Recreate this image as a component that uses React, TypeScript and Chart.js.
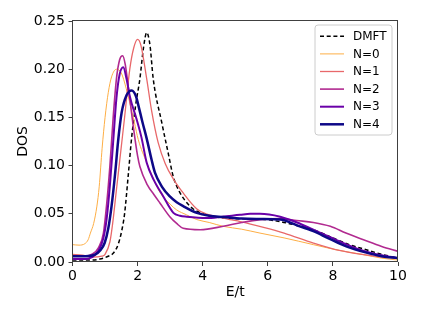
import React, { useEffect, useRef } from "react";
import { Chart, registerables } from "chart.js";

Chart.register(...registerables);

const xTicks = [0, 2, 4, 6, 8, 10];
const yTicks = [0, 0.05, 0.1, 0.15, 0.2, 0.25];

const seriesLabels = ["DMFT", "N=0", "N=1", "N=2", "N=3", "N=4"];

const dmftE = [0, 0.5, 0.84, 1.1, 1.25, 1.4, 1.51, 1.6, 1.71, 1.82, 1.95, 2.07, 2.18, 2.28, 2.38, 2.48, 2.74, 2.94, 3.1, 3.3, 3.5, 3.71, 4.0, 4.33, 5.0, 5.8, 6.5, 7.0, 7.4, 8.0, 8.5, 8.94, 9.5, 10];
const dmftDos = [0.002, 0.002, 0.003, 0.006, 0.009, 0.018, 0.032, 0.05, 0.089, 0.13, 0.165, 0.19, 0.222, 0.238, 0.225, 0.19, 0.145, 0.113, 0.088, 0.072, 0.062, 0.055, 0.05, 0.047, 0.045, 0.0445, 0.041, 0.037, 0.0335, 0.025, 0.018, 0.0135, 0.008, 0.004];

const n0E = [0, 0.2, 0.38, 0.48, 0.55, 0.65, 0.75, 0.82, 0.91, 1.0, 1.1, 1.2, 1.35, 1.5, 1.65, 1.76, 1.9, 2.02, 2.28, 2.5, 2.69, 3.0, 3.2, 3.5, 3.82, 4.2, 4.63, 5.2, 5.76, 6.5, 7.4, 8.2, 8.94, 9.5, 10];
const n0Dos = [0.018, 0.0175, 0.019, 0.023, 0.03, 0.04, 0.058, 0.078, 0.118, 0.15, 0.176, 0.192, 0.2, 0.196, 0.18, 0.165, 0.145, 0.127, 0.103, 0.085, 0.072, 0.06, 0.054, 0.049, 0.044, 0.041, 0.037, 0.034, 0.03, 0.025, 0.018, 0.012, 0.0076, 0.004, 0.002];

const n1E = [0, 0.3, 0.6, 0.9, 1.0, 1.15, 1.23, 1.35, 1.5, 1.6, 1.76, 1.88, 2.0, 2.1, 2.28, 2.43, 2.63, 2.85, 3.1, 3.4, 3.82, 4.1, 4.43, 4.84, 5.15, 5.87, 6.5, 7.4, 8.2, 8.94, 9.5, 10];
const n1Dos = [0.008, 0.007, 0.005, 0.006, 0.008, 0.021, 0.039, 0.075, 0.12, 0.15, 0.2, 0.222, 0.231, 0.225, 0.19, 0.157, 0.124, 0.102, 0.086, 0.0716, 0.055, 0.05, 0.047, 0.044, 0.042, 0.036, 0.03, 0.0197, 0.012, 0.0076, 0.005, 0.004];

const n2E = [0, 0.4, 0.6, 0.8, 0.95, 1.05, 1.15, 1.25, 1.35, 1.45, 1.54, 1.62, 1.72, 1.85, 2.0, 2.07, 2.3, 2.5, 2.69, 2.99, 3.2, 3.4, 3.92, 4.63, 5.2, 5.76, 6.4, 6.89, 7.4, 7.92, 8.4, 8.94, 9.5, 10];
const n2Dos = [0.006, 0.006, 0.008, 0.015, 0.03, 0.06, 0.1, 0.15, 0.19, 0.21, 0.214, 0.205, 0.18, 0.145, 0.11, 0.099, 0.08, 0.07, 0.061, 0.047, 0.04, 0.035, 0.0335, 0.037, 0.041, 0.044, 0.045, 0.043, 0.041, 0.037, 0.03, 0.023, 0.016, 0.011];

const n3E = [0, 0.4, 0.6, 0.8, 0.95, 1.05, 1.15, 1.25, 1.35, 1.45, 1.56, 1.66, 1.76, 1.97, 2.12, 2.28, 2.5, 2.79, 3.1, 3.3, 3.51, 4.12, 4.6, 5.15, 5.46, 5.76, 6.38, 6.9, 7.4, 7.9, 8.43, 9.0, 9.5, 10];
const n3Dos = [0.003, 0.003, 0.005, 0.012, 0.025, 0.045, 0.08, 0.125, 0.17, 0.195, 0.202, 0.19, 0.172, 0.148, 0.129, 0.103, 0.085, 0.068, 0.051, 0.048, 0.047, 0.0456, 0.047, 0.049, 0.05, 0.05, 0.047, 0.041, 0.0335, 0.026, 0.018, 0.011, 0.007, 0.004];

const n4E = [0, 0.4, 0.69, 0.85, 0.99, 1.1, 1.2, 1.31, 1.4, 1.51, 1.66, 1.82, 1.95, 2.02, 2.15, 2.28, 2.43, 2.53, 2.75, 2.99, 3.2, 3.4, 3.82, 4.2, 4.63, 5.2, 5.76, 6.38, 6.9, 7.4, 7.9, 8.43, 9.0, 9.5, 10];
const n4Dos = [0.006, 0.006, 0.0076, 0.012, 0.02, 0.035, 0.058, 0.092, 0.125, 0.155, 0.173, 0.178, 0.172, 0.163, 0.145, 0.128, 0.106, 0.093, 0.078, 0.068, 0.062, 0.058, 0.051, 0.048, 0.0467, 0.045, 0.0446, 0.044, 0.038, 0.032, 0.024, 0.016, 0.01, 0.006, 0.004];

const seriesE = [dmftE, n0E, n1E, n2E, n3E, n4E];
const seriesDos = [dmftDos, n0Dos, n1Dos, n2Dos, n3Dos, n4Dos];
const seriesColors = ["#000000", "#fdae45", "#e8686a", "#b12a90", "#6a00a8", "#0d0887"];
const seriesWidths = [1.5, 1, 1.3, 1.6, 2, 2.5];
const seriesDash: number[][] = [[4, 2.7], [], [], [], [], []];

const FONT = "DejaVu Sans";

const framePlugin = {
  id: "frameAndLegend",
  afterDraw(chart: any) {
    const { ctx, chartArea } = chart;
    ctx.save();
    const l = Math.round(chartArea.left) - 0.5;
    const t = Math.round(chartArea.top) - 0.5;
    const r = Math.round(chartArea.right) - 0.5;
    const b = Math.round(chartArea.bottom) - 0.5;
    ctx.strokeStyle = "#404040";
    ctx.lineWidth = 1;
    ctx.setLineDash([]);
    ctx.strokeRect(l, t, r - l, b - t);

    const bx = 315, by = 25, bw = 77, bh = 110, rad = 3;
    ctx.beginPath();
    ctx.moveTo(bx + rad, by);
    ctx.lineTo(bx + bw - rad, by);
    ctx.quadraticCurveTo(bx + bw, by, bx + bw, by + rad);
    ctx.lineTo(bx + bw, by + bh - rad);
    ctx.quadraticCurveTo(bx + bw, by + bh, bx + bw - rad, by + bh);
    ctx.lineTo(bx + rad, by + bh);
    ctx.quadraticCurveTo(bx, by + bh, bx, by + bh - rad);
    ctx.lineTo(bx, by + rad);
    ctx.quadraticCurveTo(bx, by, bx + rad, by);
    ctx.closePath();
    ctx.fillStyle = "rgba(255,255,255,0.8)";
    ctx.fill();
    ctx.strokeStyle = "#cccccc";
    ctx.stroke();

    const datasets = chart.data.datasets;
    datasets.forEach((ds: any, i: number) => {
      const y = 36.3 + i * 17.6;
      ctx.beginPath();
      ctx.setLineDash(ds.borderDash || []);
      ctx.strokeStyle = ds.borderColor;
      ctx.lineWidth = ds.borderWidth;
      ctx.moveTo(320, y);
      ctx.lineTo(344, y);
      ctx.stroke();
      ctx.setLineDash([]);
      ctx.fillStyle = "#000";
      ctx.font = `12px '${FONT}'`;
      ctx.textBaseline = "middle";
      ctx.textAlign = "left";
      ctx.fillText(ds.label, 353, y + 0.5);
    });
    ctx.restore();
  },
};

export default function App() {
  const ref = useRef<HTMLCanvasElement | null>(null);
  useEffect(() => {
    if (!ref.current) return;
    const datasets = seriesLabels.map((label, i) => ({
      label,
      data: seriesE[i].map((e, k) => ({ x: e, y: seriesDos[i][k] })),
      borderColor: seriesColors[i],
      backgroundColor: seriesColors[i],
      borderWidth: seriesWidths[i],
      borderDash: seriesDash[i],
      pointRadius: 0,
      fill: false,
      cubicInterpolationMode: "monotone" as const,
      order: seriesLabels.length - i,
    }));
    const chart = new Chart(ref.current, {
      type: "line",
      data: { datasets },
      plugins: [framePlugin],
      options: {
        animation: false,
        responsive: false,
        devicePixelRatio: 1,
        layout: { padding: { top: 21, right: 25, left: 0, bottom: 0 } },
        plugins: { legend: { display: false }, tooltip: { enabled: false } },
        scales: {
          x: {
            type: "linear",
            min: 0,
            max: 10,
            afterBuildTicks: (s: any) => {
              s.ticks = xTicks.map((v) => ({ value: v }));
            },
            afterFit: (s: any) => {
              s.height = 55;
            },
            ticks: {
              color: "#000",
              font: { family: FONT, size: 14 },
              padding: 2,
              maxRotation: 0,
              callback: (v: any) => String(v),
            },
            grid: { display: true, drawOnChartArea: false, drawTicks: true, tickLength: 4, color: "#404040" },
            border: { display: false },
            title: { display: true, text: "E/t", color: "#000", font: { family: FONT, size: 14 }, padding: { top: 0, bottom: 16 } },
          },
          y: {
            type: "linear",
            min: 0,
            max: 0.25,
            afterBuildTicks: (s: any) => {
              s.ticks = yTicks.map((v) => ({ value: v }));
            },
            afterFit: (s: any) => {
              s.width = 72.5;
            },
            ticks: {
              color: "#000",
              font: { family: FONT, size: 14 },
              padding: 3.5,
              callback: (v: any) => Number(v).toFixed(2),
            },
            grid: { display: true, drawOnChartArea: false, drawTicks: true, tickLength: 4, color: "#404040" },
            border: { display: false },
            title: { display: true, text: "DOS", color: "#000", font: { family: FONT, size: 14 }, padding: { top: 14.5, bottom: 0 } },
          },
        },
      },
    });
    return () => chart.destroy();
  }, []);
  return (
    <div style={{ position: "fixed", left: 0, top: 0, width: 423, height: 317, background: "#fff" }}>
      <canvas ref={ref} width={423} height={317} style={{ width: 423, height: 317, display: "block" }} />
    </div>
  );
}
